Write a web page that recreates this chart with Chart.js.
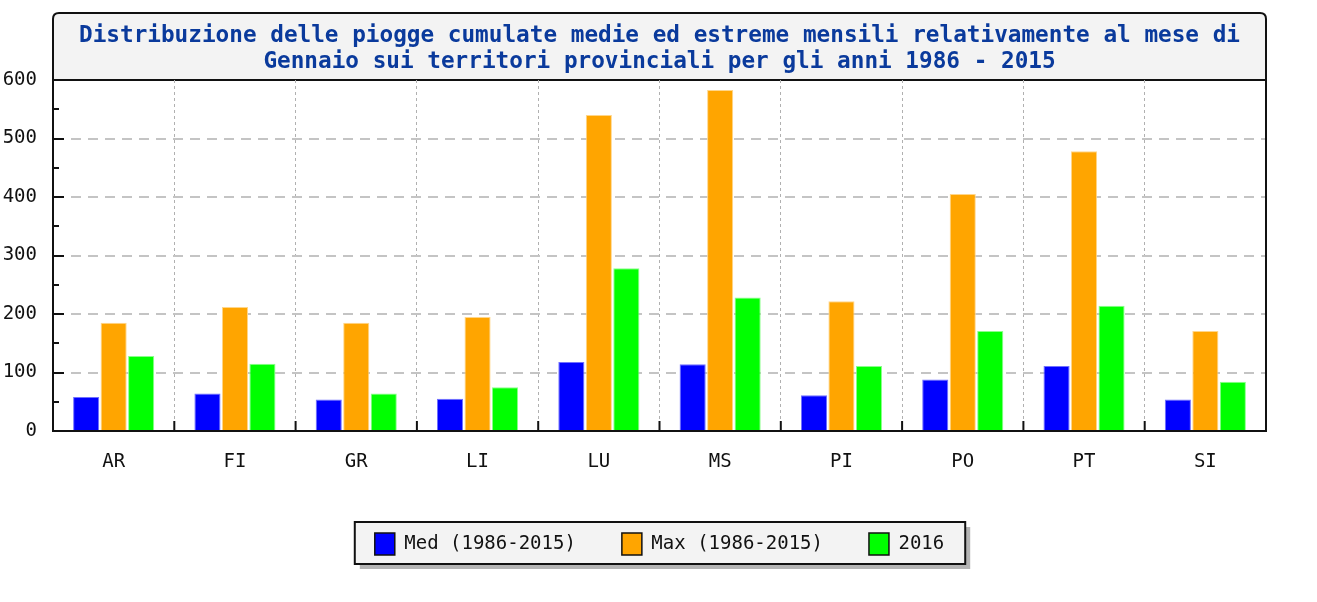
<!DOCTYPE html>
<html>
<head>
<meta charset="utf-8">
<script src="https://cdn.jsdelivr.net/npm/chart.js@4/dist/chart.umd.min.js"></script>
<style>
  html, body { margin: 0; padding: 0; background: #fff; }
  #wrap { width: 1317px; height: 602px; }
</style>
</head>
<body>
<div id="wrap"><canvas id="grafico"></canvas></div>
<script>
// dati (mm)
const province = ["AR", "FI", "GR", "LI", "LU", "MS", "PI", "PO", "PT", "SI"];
const media = [58, 64, 54, 55, 118, 114, 61, 88, 111, 54];
const massimo = [185, 212, 185, 195, 540, 583, 222, 405, 478, 171];
const anno2016 = [128, 115, 64, 75, 278, 228, 111, 171, 214, 84];
const etichette = ["Med (1986-2015)", "Max (1986-2015)", "2016"];
const titolo = [
  "Distribuzione delle piogge cumulate medie ed estreme mensili relativamente al mese di",
  "Gennaio sui territori provinciali per gli anni 1986 - 2015",
];

const FONT = "'DejaVu Sans Mono', 'Liberation Mono', monospace";

// box del titolo, bordi e tacche
const decorazioni = {
  id: "decorazioni",
  afterUpdate(chart) {
    // centra la legenda sull'area del grafico
    const lg = chart.legend;
    if (!lg) return;
    const a = chart.chartArea;
    const dx = (a.left + a.right) / 2 - (lg.left + lg.right) / 2;
    lg.left += dx;
    lg.right += dx;
    lg.legendHitBoxes.forEach((h) => (h.left += dx));
  },
  beforeDraw(chart) {
    const { ctx, chartArea: a } = chart;
    ctx.save();
    // titolo
    const top = 13, r = 6;
    ctx.beginPath();
    ctx.moveTo(a.left, a.top);
    ctx.lineTo(a.left, top + r);
    ctx.quadraticCurveTo(a.left, top, a.left + r, top);
    ctx.lineTo(a.right - r, top);
    ctx.quadraticCurveTo(a.right, top, a.right, top + r);
    ctx.lineTo(a.right, a.top);
    ctx.closePath();
    ctx.fillStyle = "#f3f3f3";
    ctx.fill();
    ctx.lineWidth = 2;
    ctx.strokeStyle = "#111";
    ctx.stroke();
    ctx.fillStyle = "#0a3a9c";
    ctx.font = "bold 22.7px " + FONT;
    ctx.textAlign = "center";
    ctx.textBaseline = "middle";
    const cx = (a.left + a.right) / 2;
    ctx.fillText(titolo[0], cx, 36);
    ctx.fillText(titolo[1], cx, 62);

    // riquadro legenda
    const lg = chart.legend;
    if (lg && lg.legendHitBoxes.length) {
      const hb = lg.legendHitBoxes;
      const last = hb[hb.length - 1];
      const x0 = hb[0].left - 20;
      const x1 = last.left + last.width + 21;
      const y0 = hb[0].top - 11;
      const y1 = hb[0].top + hb[0].height + 9;
      ctx.fillStyle = "#b4b4b4";
      ctx.fillRect(x0 + 5, y0 + 5, x1 - x0, y1 - y0);
      ctx.fillStyle = "#f3f3f3";
      ctx.fillRect(x0, y0, x1 - x0, y1 - y0);
      ctx.strokeStyle = "#111";
      ctx.lineWidth = 2;
      ctx.strokeRect(x0, y0, x1 - x0, y1 - y0);
    }
    ctx.restore();
  },
  afterDraw(chart) {
    const { ctx, chartArea: a, scales } = chart;
    ctx.save();
    ctx.strokeStyle = "#111";
    ctx.lineWidth = 2;
    // bordo destro
    ctx.beginPath();
    ctx.moveTo(a.right, a.top);
    ctx.lineTo(a.right, a.bottom);
    ctx.stroke();
    // tacche asse y
    for (let v = 50; v < 600; v += 50) {
      const y = Math.round(scales.y.getPixelForValue(v));
      const len = v % 100 === 0 ? 11 : 6;
      ctx.beginPath();
      ctx.moveTo(a.left, y);
      ctx.lineTo(a.left + len, y);
      ctx.stroke();
    }
    // tacche asse x fra le categorie
    for (let i = 1; i < province.length; i++) {
      const x = (scales.x.getPixelForValue(i - 1) + scales.x.getPixelForValue(i)) / 2;
      ctx.beginPath();
      ctx.moveTo(x, a.bottom);
      ctx.lineTo(x, a.bottom - 10);
      ctx.stroke();
    }
    ctx.restore();
  },
};

const ctx = document.getElementById("grafico").getContext("2d");
new Chart(ctx, {
  type: "bar",
  data: {
    labels: province,
    datasets: [
      { label: etichette[0], data: media, backgroundColor: "#0000ff", borderColor: "#7070ff", borderWidth: 1 },
      { label: etichette[1], data: massimo, backgroundColor: "#ffa500", borderColor: "#ffd68a", borderWidth: 1 },
      { label: etichette[2], data: anno2016, backgroundColor: "#00ff00", borderColor: "#8aff8a", borderWidth: 1 },
    ],
  },
  options: {
    responsive: true,
    maintainAspectRatio: false,
    animation: false,
    layout: { padding: { left: 0, right: 51, top: 80, bottom: 37 } },
    datasets: { bar: { categoryPercentage: 0.68, barPercentage: 0.95 } },
    plugins: {
      title: { display: false },
      tooltip: { enabled: false },
      legend: {
        position: "bottom",
        labels: {
          boxWidth: 20,
          boxHeight: 22,
          padding: 46,
          color: "#111",
          font: { family: FONT, size: 19 },
          generateLabels(chart) {
            const items = Chart.defaults.plugins.legend.labels.generateLabels(chart);
            items.forEach((it) => {
              it.strokeStyle = "#111";
              it.lineWidth = 1.5;
            });
            return items;
          },
        },
      },
    },
    scales: {
      x: {
        afterFit(s) { s.height = 56; },
        grid: {
          offset: true,
          drawTicks: false,
          color: "#b0b0b0",
          lineWidth: 1,
        },
        border: { color: "#111", width: 2, dash: [3, 3] },
        ticks: { color: "#111", padding: 20, font: { family: FONT, size: 19 } },
      },
      y: {
        min: 0,
        max: 600,
        afterFit(s) { s.width = 53; },
        grid: {
          drawTicks: false,
          color: (c) => (c.tick && (c.tick.value === 0 || c.tick.value === 600) ? "rgba(0,0,0,0)" : "#c4c4c4"),
          lineWidth: 2,
        },
        border: { color: "#111", width: 2, dash: [10, 7] },
        ticks: { stepSize: 100, color: "#111", padding: 16, font: { family: FONT, size: 19 } },
      },
    },
  },
  plugins: [decorazioni],
});
</script>
</body>
</html>
